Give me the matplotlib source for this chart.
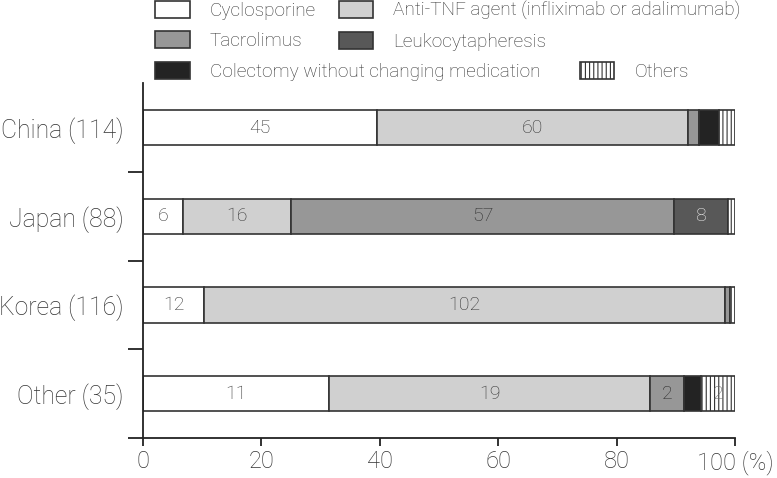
import matplotlib
matplotlib.use('Agg')
import matplotlib.pyplot as plt
from matplotlib.patches import Patch
import numpy as np

plt.rcParams['font.family'] = ['Roboto', 'DejaVu Sans']
plt.rcParams['hatch.linewidth'] = 0.8

# data (number of patients per rescue therapy)
countries = ['China (114)', 'Japan (88)', 'Korea (116)', 'Other (35)']
totals = [114, 88, 116, 35]
treatments = ['Cyclosporine', 'Anti-TNF agent (infliximab or adalimumab)',
              'Tacrolimus', 'Leukocytapheresis',
              'Colectomy without changing medication', 'Others']
cyclosporine = [45, 6, 12, 11]
anti_tnf = [60, 16, 102, 19]
tacrolimus = [2, 57, 1, 2]
leuko = [0, 8, 0, 0]
colectomy = [4, 0, 0, 1]
others = [3, 1, 1, 2]
xticks = [0, 20, 40, 60, 80, 100]
xticklabels = ['0', '20', '40', '60', '80', '100 (%)']

series = [cyclosporine, anti_tnf, tacrolimus, leuko, colectomy, others]
colors = ['white', '#d0d0d0', '#979797', '#585858', '#232323', 'white']
hatches = [None, None, None, None, None, '||||']
text_colors = ['#333333', '#333333', '#2a2a2a', '#eeeeee', '#eeeeee', '#666666']


def draw(ax):
    y = np.arange(len(countries))
    left = np.zeros(len(countries))
    for vals, c, h, tc in zip(series, colors, hatches, text_colors):
        pct = np.array(vals) / np.array(totals) * 100
        ax.barh(y, pct, left=left, height=0.4, color=c, edgecolor='#333333',
                linewidth=1.2, hatch=h)
        for i, (v, p) in enumerate(zip(vals, pct)):
            if p >= 5:
                ax.text(left[i] + p / 2, y[i], str(v), ha='center', va='center',
                        fontsize=14, color=tc, fontweight='light')
        left += pct

    ax.set_xlim(0, 100)
    ax.set_ylim(len(countries) - 0.5, -0.5)
    ax.set_yticks(y)
    ax.set_yticklabels(countries, fontsize=17.8, color='#333333', fontweight='light')
    ax.tick_params(axis='y', length=0, pad=14)
    ax.set_yticks(np.arange(len(countries)) + 0.5, minor=True)
    ax.tick_params(axis='y', which='minor', length=11, width=1.3, color='#222222')
    ax.set_xticks(xticks)
    ax.set_xticklabels(xticklabels, fontsize=17, color='#333333', fontweight='light')
    ax.tick_params(axis='x', length=6, width=1.3, color='#222222', pad=3)
    for s in ['top', 'right']:
        ax.spines[s].set_visible(False)
    for s in ['left', 'bottom']:
        ax.spines[s].set_linewidth(1.3)
        ax.spines[s].set_color('#222222')


def legend(fig):
    handles = [Patch(facecolor=c, edgecolor='#333333', hatch=h, linewidth=1.2)
               for c, h in zip(colors, hatches)]
    common = dict(frameon=False, handlelength=1.8, handleheight=1.0,
                  handletextpad=1.05, borderpad=0, borderaxespad=0,
                  loc='upper left', prop={'weight': 'light', 'size': 13.7})
    order = [0, 2, 1, 3]
    leg1 = fig.legend([handles[i] for i in order], [treatments[i] for i in order],
                      ncol=2, columnspacing=1.2, labelspacing=0.6,
                      bbox_to_anchor=(0.2, 0.998), **common)
    leg2 = fig.legend(handles[4:], treatments[4:], ncol=2, columnspacing=2.1,
                      bbox_to_anchor=(0.2, 0.870), **common)
    for leg in (leg1, leg2):
        for t in leg.get_texts():
            t.set_color('#333333')


fig = plt.figure(figsize=(7.77, 4.78), dpi=100)
ax = fig.add_axes([0.184, 0.0837, 0.762, 0.742])
draw(ax)
legend(fig)
fig.savefig('out.png', dpi=100)
